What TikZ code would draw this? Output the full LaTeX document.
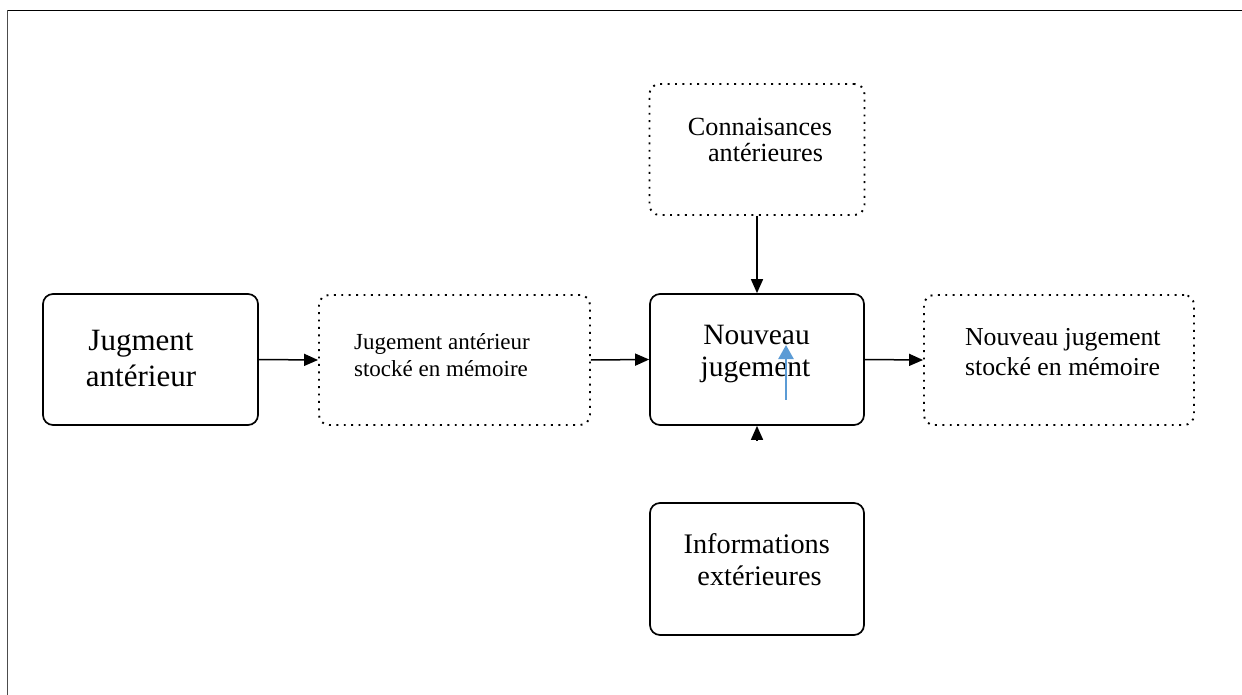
\documentclass[tikz,border=0pt]{standalone}
\usepackage{fontspec}
\setmainfont{Liberation Serif}
\usetikzlibrary{arrows.meta}
\begin{document}
\begin{tikzpicture}[x=1pt,y=-1pt,
  solidbox/.style={draw=black, line width=1.7pt, rounded corners=10pt, inner sep=0pt},
  dotbox/.style={draw=black, line width=1.9pt, dash pattern=on 1.9pt off 5.5pt, rounded corners=10pt, inner sep=0pt},
  lbl/.style={inner sep=0pt, anchor=base, text=black},
  arr/.style={draw=black, line width=1.5pt, -{Triangle[length=14pt,width=12pt]}},
  bluearr/.style={draw={rgb,255:red,91;green,155;blue,213}, line width=2.4pt, -{Triangle[length=14pt,width=15pt]}}]
\useasboundingbox (0,0) rectangle (1242,695);
\fill[white] (0,0) rectangle (1242,695);

% outer frame (top and left edges only)
\coordinate (frameTL) at (7.5,10.5);
\coordinate (frameTR) at (1242,10.5);
\coordinate (frameBL) at (7.5,695);
\draw[black, line width=1.4pt] (frameTL) -- (frameTR);
\draw[black!70, line width=1.6pt] (frameTL) -- (frameBL);

% boxes
\node[solidbox, minimum width=215pt, minimum height=131pt] (ja) at (150.5,359.5) {};
\node[dotbox,   minimum width=271pt, minimum height=130pt] (js) at (454.5,360) {};
\node[solidbox, minimum width=214pt, minimum height=131pt] (nj) at (757,359.5) {};
\node[dotbox,   minimum width=270pt, minimum height=130pt] (ns) at (1059,360) {};
\node[dotbox,   minimum width=215pt, minimum height=131pt] (ca) at (757,149.5) {};
\node[solidbox, minimum width=214pt, minimum height=132pt] (ie) at (757,569) {};

% labels
\node[lbl, font=\fontsize{31}{37}\selectfont] (ja1) at (141,350.7) {Jugment};
\node[lbl, font=\fontsize{31}{37}\selectfont] (ja2) at (141,386) {antérieur};
\node[lbl, font=\fontsize{23}{28}\selectfont] (js1) at (442,349) {Jugement antérieur};
\node[lbl, font=\fontsize{23}{28}\selectfont] (js2) at (441,376.7) {stocké en mémoire};
\node[lbl, font=\fontsize{29.5}{34}\selectfont] (nj1) at (756.5,344) {Nouveau};
\node[lbl, font=\fontsize{29.5}{34}\selectfont] (nj2) at (755.5,376.7) {jugement};
\node[lbl, font=\fontsize{25.8}{31}\selectfont] (ns1) at (1062.8,345) {Nouveau jugement};
\node[lbl, font=\fontsize{25.8}{31}\selectfont] (ns2) at (1062.5,375) {stocké en mémoire};
\node[lbl, font=\fontsize{26.2}{31}\selectfont] (ca1) at (760,135.7) {Connaisances};
\node[lbl, font=\fontsize{26.2}{31}\selectfont] (ca2) at (765.5,161.7) {antérieures};
\node[lbl, font=\fontsize{28.3}{34}\selectfont] (ie1) at (756.7,553) {Informations};
\node[lbl, font=\fontsize{28.3}{34}\selectfont] (ie2) at (759.5,585) {extérieures};

% connectors
\draw[arr] (ja.east) -- (js.west);
\draw[arr] (js.east) -- (nj.west);
\draw[arr] (nj.east) -- (ns.west);
\draw[arr] (ca.south) -- (nj.north);
\coordinate (ieStub) at (757,441);
\draw[arr] (ieStub) -- (nj.south);

% blue marker arrow inside the central box
\coordinate (blueTail) at (786,399.5);
\coordinate (blueTip) at (786,345);
\draw[bluearr] (blueTail) -- (blueTip);
\end{tikzpicture}
\end{document}
